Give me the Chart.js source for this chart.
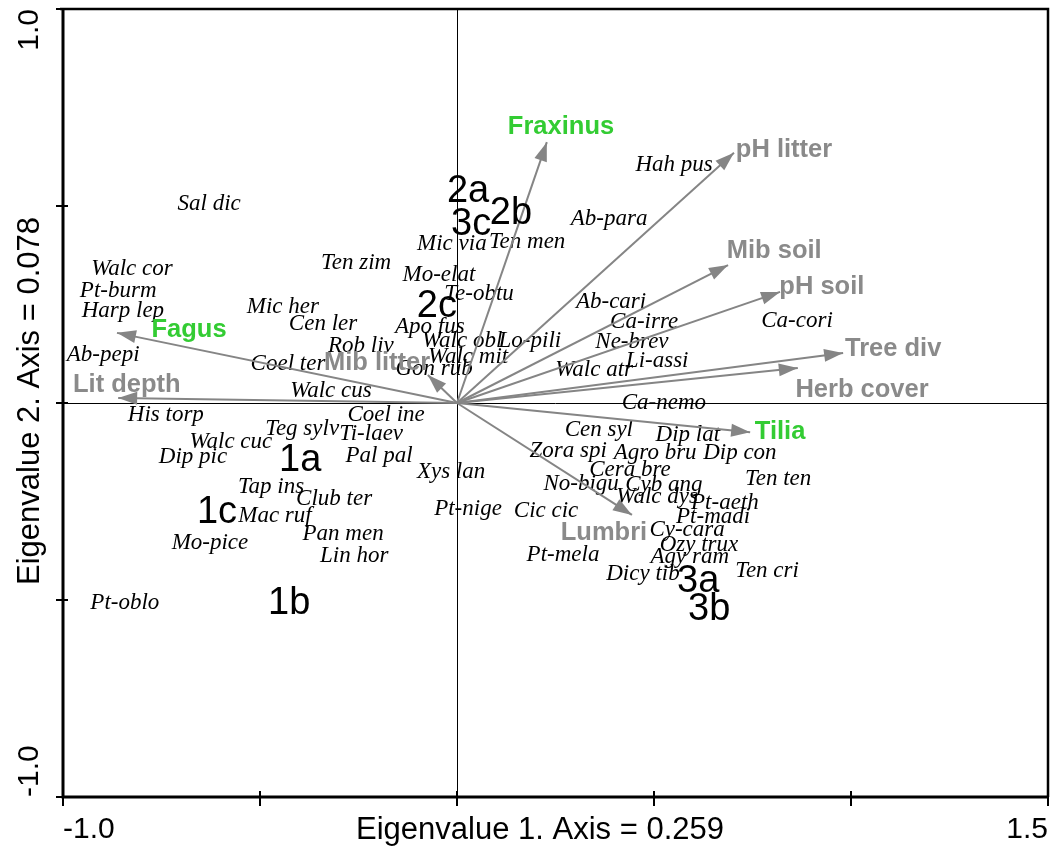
<!DOCTYPE html>
<html>
<head>
<meta charset="utf-8">
<script src="https://cdn.jsdelivr.net/npm/chart.js@4/dist/chart.umd.min.js"></script>
<style>
  html, body { margin: 0; padding: 0; background: #fff; }
  #wrap { width: 1053px; height: 847px; position: relative; }
</style>
</head>
<body>
<div id="wrap"><canvas id="c"></canvas></div>
<script>
// Axis ranges / ticks
const X_MIN = -1.0, X_MAX = 1.5;
const Y_MIN = -1.0, Y_MAX = 1.0;
const TICK_STEP = 0.5;
const X_TITLE = 'Eigenvalue 1. Axis = 0.259';
const Y_TITLE = 'Eigenvalue 2. Axis = 0.078';

// Species scores (label centres)
const speciesNames = [
  'Sal dic', 'Walc cor', 'Pt-burm', 'Harp lep', 'Ab-pepi', 'His torp', 'Walc cuc', 'Dip pic',
  'Teg sylv', 'Ti-laev', 'Coel ine', 'Pal pal', 'Tap ins', 'Mac ruf', 'Club ter', 'Pan men',
  'Lin hor', 'Mo-pice', 'Pt-oblo', 'Xys lan', 'Pt-nige', 'Mic her', 'Cen ler', 'Rob liv',
  'Coel ter', 'Walc cus', 'Ten zim', 'Mic via', 'Ten men', 'Mo-elat', 'Te-obtu', 'Apo fus',
  'Walc obl', 'Walc mit', 'Gon rub', 'Lo-pili', 'Ab-para', 'Hah pus', 'Ab-cari', 'Ca-irre',
  'Ne-brev', 'Li-assi', 'Walc atr', 'Ca-cori', 'Ca-nemo', 'Cen syl', 'Dip lat', 'Dip con',
  'Zora spi', 'Agro bru', 'Cera bre', 'No-bigu', 'Cyb ang', 'Walc dys', 'Pt-aeth', 'Pt-madi',
  'Ten ten', 'Cic cic', 'Cy-cara', 'Ozy trux', 'Agy ram', 'Pt-mela', 'Dicy tib', 'Ten cri'
];
const speciesX = [
  -0.629, -0.825, -0.860, -0.848, -0.898, -0.739, -0.574, -0.670,
  -0.393, -0.218, -0.180, -0.198, -0.472, -0.462, -0.312, -0.289,
  -0.261, -0.627, -0.843, -0.015, 0.028, -0.442, -0.340, -0.244,
  -0.429, -0.320, -0.256, -0.013, 0.178, -0.046, 0.056, -0.069,
  0.013, 0.028, -0.058, 0.185, 0.386, 0.551, 0.391, 0.475,
  0.444, 0.508, 0.348, 0.863, 0.525, 0.360, 0.586, 0.718,
  0.282, 0.503, 0.439, 0.315, 0.525, 0.508, 0.680, 0.650,
  0.815, 0.226, 0.584, 0.614, 0.591, 0.269, 0.472, 0.787
];
const speciesY = [
  0.505, 0.340, 0.284, 0.234, 0.122, -0.030, -0.099, -0.137,
  -0.066, -0.079, -0.030, -0.135, -0.213, -0.287, -0.244, -0.332,
  -0.388, -0.355, -0.508, -0.175, -0.269, 0.244, 0.201, 0.145,
  0.099, 0.030, 0.355, 0.404, 0.409, 0.325, 0.277, 0.193,
  0.157, 0.117, 0.086, 0.157, 0.467, 0.604, 0.256, 0.206,
  0.155, 0.107, 0.084, 0.208, 0.000, -0.069, -0.081, -0.127,
  -0.122, -0.127, -0.170, -0.206, -0.208, -0.239, -0.254, -0.289,
  -0.193, -0.274, -0.322, -0.360, -0.391, -0.386, -0.434, -0.426
];

// Sample (plot group) scores
const sampleNames = ['2a', '2b', '3c', '2c', '1a', '1c', '1b', '3a', '3b'];
const sampleX = [0.028, 0.137, 0.036, -0.051, -0.398, -0.609, -0.426, 0.612, 0.640];
const sampleY = [0.536, 0.480, 0.452, 0.246, -0.145, -0.277, -0.510, -0.452, -0.525];

// Environmental variables: arrow tips and label centres
const envNames  = ['Fagus', 'Lit depth', 'Mib litter', 'Fraxinus', 'pH litter', 'Mib soil',
                   'pH soil', 'Tree div', 'Herb cover', 'Tilia', 'Lumbri'];
const envIsTree = [true, false, false, true, false, false, false, false, false, true, false];
const envX      = [-0.863, -0.860, -0.074, 0.228, 0.703, 0.688, 0.820, 0.980, 0.865, 0.744, 0.444];
const envY      = [0.178, 0.013, 0.071, 0.662, 0.635, 0.350, 0.282, 0.127, 0.089, -0.074, -0.284];
const envLabelX = [-0.680, -0.838, -0.203, 0.264, 0.830, 0.805, 0.926, 1.107, 1.028, 0.820, 0.373];
const envLabelY = [0.185, 0.046, 0.102, 0.701, 0.642, 0.386, 0.294, 0.137, 0.033, -0.074, -0.330];

const ARROW_GREY = '#858585';
const LABEL_GREY = '#8a8a8a';
const TREE_GREEN = '#33cc33';

const toPoints = (xs, ys) => xs.map((x, i) => ({ x, y: ys[i] }));

const datasets = [
  { label: 'species', data: toPoints(speciesX, speciesY), pointRadius: 0, showLine: false },
  { label: 'samples', data: toPoints(sampleX, sampleY), pointRadius: 0, showLine: false },
  { label: 'envLabels', data: toPoints(envLabelX, envLabelY), pointRadius: 0, showLine: false },
];
envNames.forEach((name, i) => {
  datasets.push({
    label: 'arrow ' + name,
    data: [{ x: 0, y: 0 }, { x: envX[i], y: envY[i] }],
    showLine: true,
    borderColor: ARROW_GREY,
    borderWidth: 2,
    pointRadius: 0,
  });
});

function textAt(ctx, txt, x, y, font, color, align) {
  ctx.font = font;
  ctx.fillStyle = color;
  ctx.textAlign = align || 'center';
  ctx.textBaseline = 'middle';
  ctx.fillText(txt, x, y);
}

const biplotPlugin = {
  id: 'biplot',
  beforeDatasetsDraw(chart) {
    const { ctx, chartArea: a, scales: { x, y } } = chart;
    ctx.save();
    // zero lines
    ctx.strokeStyle = '#000';
    ctx.lineWidth = 1;
    const x0 = Math.round(x.getPixelForValue(0)) + 0.5;
    const y0 = Math.round(y.getPixelForValue(0)) + 0.5;
    ctx.beginPath();
    ctx.moveTo(x0, a.top); ctx.lineTo(x0, a.bottom);
    ctx.moveTo(a.left, y0); ctx.lineTo(a.right, y0);
    ctx.stroke();
    // species labels (under the arrows)
    chart.getDatasetMeta(0).data.forEach((pt, i) => {
      textAt(ctx, speciesNames[i], pt.x, pt.y, 'italic 23px "Liberation Serif", "DejaVu Serif", serif', '#000');
    });
    ctx.restore();
  },
  afterDatasetsDraw(chart) {
    const { ctx, chartArea: a, scales: { x, y } } = chart;
    ctx.save();
    // arrowheads
    const ox = x.getPixelForValue(0), oy = y.getPixelForValue(0);
    envNames.forEach((name, i) => {
      const tx = x.getPixelForValue(envX[i]), ty = y.getPixelForValue(envY[i]);
      const ang = Math.atan2(ty - oy, tx - ox);
      const len = 19, half = 6.5;
      ctx.beginPath();
      ctx.moveTo(tx, ty);
      ctx.lineTo(tx - len * Math.cos(ang) + half * Math.sin(ang), ty - len * Math.sin(ang) - half * Math.cos(ang));
      ctx.lineTo(tx - len * Math.cos(ang) - half * Math.sin(ang), ty - len * Math.sin(ang) + half * Math.cos(ang));
      ctx.closePath();
      ctx.fillStyle = ARROW_GREY;
      ctx.fill();
    });
    // env labels
    chart.getDatasetMeta(2).data.forEach((pt, i) => {
      textAt(ctx, envNames[i], pt.x, pt.y, 'bold 25.5px "Liberation Sans", Arial, sans-serif',
        envIsTree[i] ? TREE_GREEN : LABEL_GREY);
    });
    // sample labels
    chart.getDatasetMeta(1).data.forEach((pt, i) => {
      textAt(ctx, sampleNames[i], pt.x, pt.y, '38px "Liberation Sans", Arial, sans-serif', '#000');
    });

    // frame
    ctx.strokeStyle = '#000';
    ctx.lineWidth = 2.5;
    ctx.beginPath();
    ctx.moveTo(a.left - 3, a.top); ctx.lineTo(a.right, a.top); ctx.lineTo(a.right, a.bottom);
    ctx.stroke();
    ctx.lineWidth = 3;
    ctx.beginPath();
    ctx.moveTo(a.left, a.top - 1); ctx.lineTo(a.left, a.bottom); ctx.lineTo(a.right + 1, a.bottom);
    ctx.stroke();
    // ticks
    ctx.lineWidth = 2;
    ctx.beginPath();
    for (let v = X_MIN; v <= X_MAX + 1e-9; v += TICK_STEP) {
      const px = x.getPixelForValue(v);
      ctx.moveTo(px, a.bottom - 6); ctx.lineTo(px, a.bottom + 9);
    }
    for (let v = Y_MIN; v <= Y_MAX + 1e-9; v += TICK_STEP) {
      const py = y.getPixelForValue(v);
      ctx.moveTo(a.left - 7, py); ctx.lineTo(a.left + 5, py);
    }
    ctx.stroke();

    // tick labels & titles
    const tickFont = '30px "Liberation Sans", Arial, sans-serif';
    const titleFont = '31px "Liberation Sans", Arial, sans-serif';
    textAt(ctx, X_MIN.toFixed(1), x.getPixelForValue(X_MIN), a.bottom + 33, tickFont, '#000', 'left');
    textAt(ctx, X_MAX.toFixed(1), x.getPixelForValue(X_MAX), a.bottom + 33, tickFont, '#000', 'right');
    textAt(ctx, X_TITLE, 540, a.bottom + 33, titleFont, '#000', 'center');

    ctx.translate(30, 0);
    ctx.rotate(-Math.PI / 2);
    // rotated frame: x' = -y
    textAt(ctx, Y_MAX.toFixed(1), -y.getPixelForValue(Y_MAX), 0, tickFont, '#000', 'right');
    textAt(ctx, Y_MIN.toFixed(1), -y.getPixelForValue(Y_MIN), 0, tickFont, '#000', 'left');
    textAt(ctx, Y_TITLE, -401, 0, titleFont, '#000', 'center');
    ctx.restore();
  },
};

new Chart(document.getElementById('c'), {
  type: 'scatter',
  data: { datasets },
  options: {
    responsive: true,
    maintainAspectRatio: false,
    animation: false,
    layout: { padding: { left: 63, right: 5, top: 9, bottom: 50 } },
    plugins: { legend: { display: false }, tooltip: { enabled: false } },
    scales: {
      x: { type: 'linear', min: X_MIN, max: X_MAX, display: false },
      y: { type: 'linear', min: Y_MIN, max: Y_MAX, display: false },
    },
  },
  plugins: [biplotPlugin],
});
</script>
</body>
</html>
